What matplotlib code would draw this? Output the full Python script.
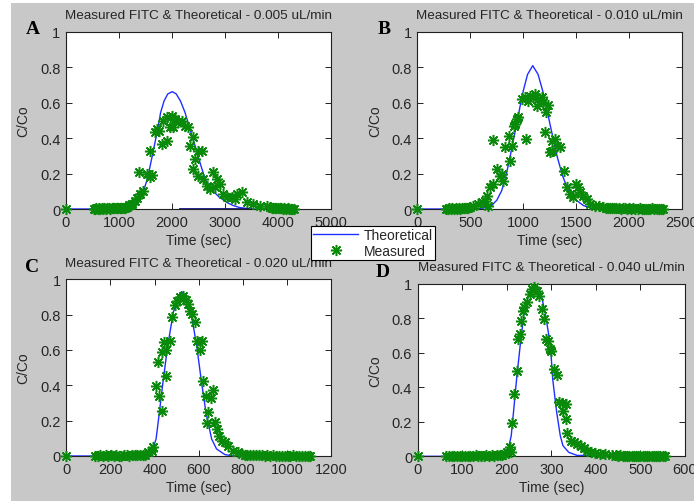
import matplotlib.pyplot as plt
from matplotlib.patches import Rectangle
from matplotlib.lines import Line2D

plt.rcParams['font.family'] = ['Liberation Sans', 'DejaVu Sans']

# ---- panel A : 0.005 uL/min ----
theo_a_t = [0, 1000, 1200, 1300, 1365, 1450, 1535, 1600, 1667, 1730, 1786, 1850, 1920, 2006,
            2080, 2160, 2245, 2340, 2434, 2530, 2623, 2750, 2880, 3031, 3150, 3280, 3500, 4300]
theo_a_c = [0, 0, 0.003, 0.015, 0.038, 0.09, 0.17, 0.26, 0.358, 0.45, 0.546, 0.61, 0.65, 0.663,
            0.65, 0.61, 0.546, 0.45, 0.358, 0.26, 0.17, 0.11, 0.07, 0.038, 0.02, 0.008, 0.0, 0.0]
base_a_t = [2150, 3470]
base_a_c = [0, 0]
meas_a_t = [0, 520, 545, 570, 595, 620, 650, 675, 700, 725, 750, 780, 805, 830, 860, 885, 910,
            935, 960, 990, 1015, 1040, 1065, 1090, 1120, 1132, 1160, 1195, 1220, 1250, 1302,
            1340, 1396, 1458, 1383, 1522, 1585, 1617, 1585, 1679, 1711, 1761, 1805, 1899, 1837,
            1899, 1993, 2056, 1962, 2119, 2182, 2245, 2308, 2025, 2339, 2402, 2433, 2496, 2559,
            2402, 2496, 2590, 2653, 2779, 2842, 2905, 2716, 2810, 2968, 3031, 3125, 3220, 3314,
            3188, 3408, 3534, 3660, 3786, 3850, 3880, 3910, 3940, 3970, 4000, 4030, 4060, 4090,
            4120, 4150, 4180, 4210, 4240, 4270, 4300]
meas_a_c = [0, 0.002, 0.0, 0.004, 0.001, 0.003, 0.0, 0.005, 0.002, 0.004, 0.001, 0.006, 0.003,
            0.002, 0.005, 0.004, 0.003, 0.006, 0.004, 0.005, 0.003, 0.007, 0.005, 0.008, 0.006,
            0.01, 0.012, 0.02, 0.025, 0.03, 0.047, 0.06, 0.085, 0.10, 0.207, 0.198, 0.179, 0.192,
            0.33, 0.433, 0.452, 0.443, 0.367, 0.386, 0.499, 0.518, 0.527, 0.508, 0.461, 0.489,
            0.499, 0.471, 0.461, 0.461, 0.357, 0.405, 0.282, 0.329, 0.329, 0.226, 0.188, 0.169,
            0.132, 0.207, 0.169, 0.141, 0.113, 0.122, 0.085, 0.066, 0.066, 0.085, 0.094, 0.057,
            0.038, 0.028, 0.019, 0.015, 0.01, 0.008, 0.006, 0.007, 0.004, 0.005, 0.003, 0.004,
            0.002, 0.003, 0.001, 0.003, 0.002, 0.001, 0.002, 0.0]

# ---- panel B : 0.010 uL/min ----
theo_b_t = [0, 500, 622, 701, 750, 796, 837, 874, 905, 937, 968, 1000, 1040, 1089, 1140, 1183,
            1218, 1252, 1287, 1322, 1370, 1425, 1500, 1567, 1662, 2300]
theo_b_c = [0, 0, 0.005, 0.02, 0.05, 0.104, 0.19, 0.292, 0.385, 0.48, 0.575, 0.668, 0.76, 0.81,
            0.76, 0.668, 0.575, 0.48, 0.385, 0.292, 0.19, 0.104, 0.05, 0.02, 0.0, 0.0]
meas_b_t = [0, 270, 285, 300, 315, 330, 345, 360, 375, 390, 405, 420, 435, 450, 465, 480, 495,
            528, 575, 607, 638, 670, 654, 685, 717, 748, 795, 811, 780, 717, 827, 874, 890, 868,
            921, 937, 953, 912, 1025, 984, 1016, 1047, 1063, 1095, 1111, 1142, 1126, 1173, 1189,
            1236, 1214, 1205, 1268, 1299, 1322, 1347, 1268, 1252, 1385, 1410, 1441, 1473, 1498,
            1520, 1536, 1567, 1599, 1630, 1677, 1720, 1756, 1780, 1800, 1820, 1840, 1860, 1880,
            1900, 1920, 1940, 1960, 1980, 2000, 2020, 2040, 2060, 2080, 2100, 2120, 2140, 2160,
            2180, 2200, 2220, 2240, 2260, 2280, 2300, 2320]
meas_b_c = [0, 0.002, 0.0, 0.003, 0.001, 0.004, 0.002, 0.003, 0.001, 0.005, 0.002, 0.004, 0.006,
            0.005, 0.008, 0.007, 0.01, 0.019, 0.028, 0.038, 0.047, 0.019, 0.075, 0.122, 0.141,
            0.226, 0.198, 0.16, 0.188, 0.39, 0.349, 0.273, 0.358, 0.414, 0.48, 0.508, 0.518,
            0.471, 0.395, 0.621, 0.63, 0.612, 0.64, 0.63, 0.649, 0.621, 0.584, 0.63, 0.602,
            0.589, 0.546, 0.433, 0.386, 0.395, 0.358, 0.349, 0.33, 0.32, 0.216, 0.122, 0.085,
            0.066, 0.141, 0.122, 0.094, 0.075, 0.057, 0.028, 0.019, 0.015, 0.013, 0.008, 0.006,
            0.005, 0.007, 0.004, 0.003, 0.005, 0.002, 0.004, 0.003, 0.001, 0.003, 0.002, 0.004,
            0.001, 0.002, 0.003, 0.001, 0.002, 0.0, 0.002, 0.001, 0.003, 0.001, 0.002, 0.0,
            0.001, 0.002]

# ---- panel C : 0.020 uL/min ----
theo_c_t = [0, 300, 373, 392, 407, 422, 440, 460, 485, 505, 523, 540, 565, 591, 611, 633, 659,
            681, 719, 757, 1110]
theo_c_c = [0, 0, 0.008, 0.04, 0.096, 0.247, 0.436, 0.625, 0.813, 0.9, 0.93, 0.9, 0.813, 0.625,
            0.436, 0.247, 0.096, 0.04, 0.008, 0.0, 0.0]
meas_c_t = [0, 130, 142, 154, 166, 178, 190, 202, 214, 226, 238, 250, 262, 274, 286, 298, 310,
            322, 334, 346, 358, 372, 387, 395, 432, 421, 406, 454, 417, 436, 454, 444, 470, 477,
            492, 503, 515, 530, 542, 553, 560, 572, 583, 593, 613, 606, 621, 633, 654, 663, 644,
            640, 674, 682, 694, 704, 719, 734, 757, 780, 795, 808, 821, 834, 847, 860, 873, 886,
            899, 912, 925, 938, 951, 964, 977, 990, 1003, 1016, 1029, 1042, 1055, 1068, 1081,
            1094, 1107]
meas_c_c = [0, 0.002, 0.0, 0.003, 0.001, 0.004, 0.002, 0.003, 0.0, 0.004, 0.002, 0.001, 0.005,
            0.003, 0.002, 0.004, 0.006, 0.003, 0.005, 0.007, 0.006, 0.02, 0.03, 0.049, 0.257,
            0.338, 0.398, 0.45, 0.53, 0.586, 0.601, 0.643, 0.653, 0.785, 0.855, 0.879, 0.898,
            0.907, 0.885, 0.86, 0.823, 0.804, 0.756, 0.653, 0.653, 0.601, 0.425, 0.34, 0.33,
            0.376, 0.247, 0.187, 0.19, 0.153, 0.115, 0.087, 0.077, 0.059, 0.03, 0.02, 0.012,
            0.008, 0.006, 0.007, 0.004, 0.005, 0.003, 0.004, 0.002, 0.003, 0.001, 0.003, 0.002,
            0.001, 0.002, 0.0, 0.002, 0.001, 0.003, 0.001, 0.002, 0.0, 0.001, 0.002, 0.0]

# ---- panel D : 0.040 uL/min ----
theo_d_t = [0, 180, 189, 198, 205, 210, 215, 222, 230, 239, 250, 265, 276, 286, 298, 303, 312,
            320, 326, 339, 358, 550]
theo_d_c = [0, 0, 0.007, 0.023, 0.062, 0.12, 0.255, 0.449, 0.642, 0.836, 0.95, 0.99, 0.95,
            0.836, 0.642, 0.449, 0.255, 0.12, 0.062, 0.023, 0.005, 0.0]
meas_d_t = [0, 64, 70, 76, 82, 88, 94, 100, 106, 112, 118, 124, 130, 136, 142, 148, 154, 160,
            166, 172, 178, 184, 190, 196, 201, 207, 209, 211, 216, 222, 226, 229, 232, 236, 238,
            245, 251, 256, 262, 268, 273, 278, 283, 289, 293, 296, 300, 306, 313, 317, 324, 332,
            327, 333, 336, 343, 351, 358, 366, 373, 381, 388, 399, 410, 421, 436, 445, 450, 455,
            460, 465, 470, 475, 480, 485, 490, 495, 500, 505, 510, 515, 520, 525, 530, 535, 540,
            545, 550, 555]
meas_d_c = [0, 0.002, 0.0, 0.003, 0.001, 0.004, 0.002, 0.003, 0.0, 0.004, 0.002, 0.001, 0.005,
            0.003, 0.002, 0.004, 0.006, 0.003, 0.005, 0.004, 0.006, 0.008, 0.01, 0.012, 0.023,
            0.052, 0.023, 0.193, 0.361, 0.496, 0.681, 0.71, 0.787, 0.845, 0.864, 0.894, 0.942,
            0.971, 0.981, 0.961, 0.932, 0.855, 0.797, 0.681, 0.671, 0.623, 0.613, 0.507, 0.472,
            0.313, 0.31, 0.304, 0.265, 0.217, 0.136, 0.091, 0.081, 0.071, 0.062, 0.046, 0.033,
            0.023, 0.019, 0.013, 0.013, 0.008, 0.006, 0.004, 0.005, 0.003, 0.004, 0.002, 0.003,
            0.001, 0.003, 0.002, 0.0, 0.002, 0.001, 0.003, 0.001, 0.002, 0.0, 0.001, 0.002,
            0.001, 0.0, 0.002, 0.001]

W, H = 694, 502
fig = plt.figure(figsize=(W / 100, H / 100), dpi=100, facecolor='white')
# matlab grey figure background (thin white strip left/top like the scan)
fig.patches.append(Rectangle((11 / W, 0), 1 - 11 / W, 1 - 4 / H, transform=fig.transFigure,
                             facecolor='#c8c8c8', edgecolor='none', zorder=-10))

TXT = '#262626'
STAR = (8, 2, 0)  # matlab style asterisk (+ and x)


def px_axes(l, t, r, b):
    return [l / W, 1 - b / H, (r - l) / W, (b - t) / H]


def draw_panel(rect, letter, letter_xy, title, title_y, theo_t, theo_c, meas_t, meas_c,
               xmax, xstep, base=None):
    ax = fig.add_axes(px_axes(*rect))
    ax.plot(theo_t, theo_c, color='#1f2fff', lw=1.0, zorder=3)
    if base is not None:
        ax.plot(base[0], base[1], color='#10108a', lw=2.0, zorder=3)
    ax.plot(meas_t, meas_c, ls='none', marker=STAR, ms=8, mew=1.1, color='#0a8a0a',
            mec='#0a8a0a', zorder=4, clip_on=False)
    ax.set_xlim(0, xmax)
    ax.set_ylim(0, 1)
    xt = list(range(0, xmax + 1, xstep))
    ax.set_xticks(xt)
    ax.set_xticklabels([str(v) for v in xt])
    ax.set_yticks([0, 0.2, 0.4, 0.6, 0.8, 1])
    ax.set_yticklabels(['0', '0.2', '0.4', '0.6', '0.8', '1'])
    ax.tick_params(direction='in', length=4, width=0.6, top=True, right=True,
                   labelsize=10.5, labelcolor=TXT, pad=4)
    for s in ax.spines.values():
        s.set_linewidth(0.8)
        s.set_color('#202020')
    ax.set_xlabel('Time (sec)', fontsize=10, color=TXT, labelpad=3)
    ax.set_ylabel('C/Co', fontsize=10, color=TXT, labelpad=7)
    cx = (rect[0] + rect[2]) / 2
    fig.text(cx / W, 1 - title_y / H, title, ha='center', va='center', fontsize=9.7, color=TXT)
    fig.text(letter_xy[0] / W, 1 - letter_xy[1] / H, letter, ha='center', va='center',
             fontsize=14, fontweight='bold', family='Liberation Serif', color='black')
    return ax


draw_panel((66, 33, 331, 210), 'A', (33, 30),
           'Measured FITC & Theoretical - 0.005 uL/min', 16,
           theo_a_t, theo_a_c, meas_a_t, meas_a_c, 5000, 1000, base=(base_a_t, base_a_c))
draw_panel((417.5, 33, 682, 210), 'B', (384, 30),
           'Measured FITC & Theoretical - 0.010 uL/min', 16,
           theo_b_t, theo_b_c, meas_b_t, meas_b_c, 2500, 500)
draw_panel((66.3, 280.3, 331, 457), 'C', (32, 268),
           'Measured FITC & Theoretical - 0.020 uL/min', 264,
           theo_c_t, theo_c_c, meas_c_t, meas_c_c, 1200, 200)
draw_panel((417.7, 285, 685, 457.3), 'D', (383, 273),
           'Measured FITC & Theoretical - 0.040 uL/min', 268,
           theo_d_t, theo_d_c, meas_d_t, meas_d_c, 600, 100)

handles = [Line2D([], [], color='#1f2fff', lw=1.0),
           Line2D([], [], ls='none', marker=STAR, ms=8, mew=1.1, color='#0a8a0a')]
leg = fig.legend(handles, ['Theoretical', 'Measured'], loc='center',
                 bbox_to_anchor=(373 / W, 1 - 244 / H), fontsize=10, frameon=True,
                 fancybox=False, edgecolor='black', framealpha=1, borderpad=0.2,
                 labelspacing=0.1, handlelength=3.2, handletextpad=0.4, borderaxespad=0)
leg.get_frame().set_linewidth(0.8)
for t in leg.get_texts():
    t.set_color(TXT)

fig.savefig('out.png', dpi=100, facecolor=fig.get_facecolor())
